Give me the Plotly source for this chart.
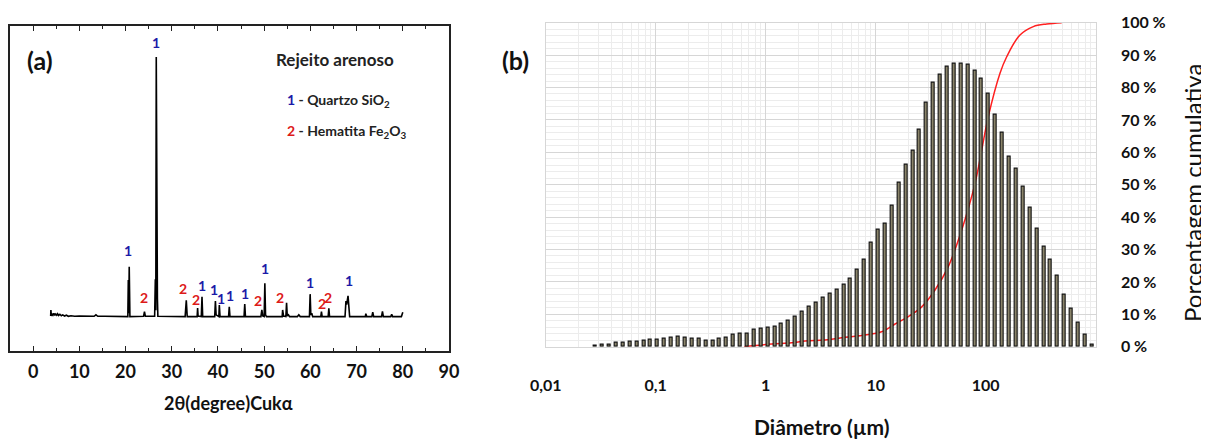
import plotly.graph_objects as go
import numpy as np

# page body has an 8px margin: the figure is placed 8px in from the window corner
OFF = 8
W, H = 1209 - OFF, 440 - OFF
FONT = "Lato"

# ---------------- Panel (a): XRD pattern ----------------
xrd_2theta = [3.8, 3.85, 3.95, 4.1, 4.3, 4.5, 4.7, 4.9, 5.1, 5.3, 5.5, 5.8, 6.1, 6.4, 6.8, 7.2, 7.6,
              8.2, 9.0, 10.0, 11.0, 12.0, 13.2, 13.6, 14.0, 15.5, 17.0, 19.0, 20.5, 20.6, 20.7,
              20.8, 20.95, 23.9, 24.1, 24.3, 26.3, 26.45, 26.55, 26.65, 26.75, 26.9, 27.0,
              32.9, 33.15, 33.35, 35.5, 35.6, 35.7, 36.4, 36.55, 36.7, 39.3, 39.45, 39.6,
              40.2, 40.3, 40.45, 42.3, 42.45, 42.6, 45.65, 45.8, 45.95, 49.3, 49.5, 49.7,
              50.0, 50.15, 50.3, 50.5, 53.9, 54.0, 54.2, 54.7, 54.85, 55.0, 55.25, 55.5,
              57.2, 57.5, 57.8, 59.8, 59.95, 60.1, 60.3, 60.5, 62.25, 62.4, 62.55, 63.85,
              64.0, 64.15, 67.5, 67.7, 67.85, 68.15, 68.35, 68.5, 71.9, 72.0, 72.2, 73.3,
              73.5, 73.7, 75.4, 75.6, 75.8, 77.4, 77.6, 77.8, 79.7, 79.85, 80.0]
xrd_counts = [100, 121, 100, 108, 103, 109, 102, 107, 103, 108, 102, 106, 101, 104, 100, 103, 99,
              101, 99, 100, 99, 100, 99, 104, 99, 99, 98, 98, 98, 225, 110,
              271, 98, 99, 115, 99, 99, 228, 120, 1000, 161, 161, 99,
              98, 155, 98, 98, 128, 100, 98, 167, 98, 98, 152, 104,
              98, 138, 98, 98, 132, 98, 98, 142, 98, 98, 121, 100,
              98, 214, 104, 98, 98, 121, 100, 98, 146, 100, 104, 98,
              98, 104, 98, 98, 176, 104, 110, 98, 98, 115, 98, 98,
              127, 98, 98, 152, 140, 170, 128, 98, 98, 108, 98, 98,
              113, 98, 98, 116, 98, 98, 106, 98, 98, 113, 113]

label_x = [26.6, 20.6, 24.1, 32.5, 36.6, 35.2, 39.1, 40.7, 42.6, 45.95, 48.6, 50.1, 53.5, 59.95, 62.6, 63.85, 68.3]
label_y = [1051, 327, 164, 196, 205, 157, 192, 162, 172, 179, 153, 264, 164, 216, 144, 164, 225]
label_phase = ["1", "1", "2", "2", "1", "2", "1", "1", "1", "1", "2", "1", "2", "1", "2", "2", "1"]

xa_ticks = [0, 10, 20, 30, 40, 50, 60, 70, 80, 90]

# ---------------- Panel (b): particle size distribution ----------------
diam_um = [0.02836, 0.03277, 0.03786, 0.04374, 0.05053, 0.05836, 0.06744, 0.07791, 0.0900, 0.1040,
           0.1201, 0.1388, 0.1603, 0.1852, 0.2139, 0.2472, 0.2856, 0.3299, 0.3812, 0.4404,
           0.5088, 0.5878, 0.6790, 0.7845, 0.9063, 1.047, 1.209, 1.397, 1.614, 1.865,
           2.155, 2.489, 2.876, 3.322, 3.838, 4.434, 5.123, 5.918, 6.838, 7.900,
           9.127, 10.54, 12.18, 14.07, 16.26, 18.78, 21.70, 25.07, 28.96, 33.46,
           38.65, 44.66, 51.59, 59.61, 68.86, 79.56, 91.91, 106.2, 122.7, 141.7,
           163.7, 189.1, 218.5, 252.4, 291.6, 336.9, 389.2, 449.7, 519.4, 600.1,
           693.3, 801.0, 925.3]
freq = [0.4, 0.5, 0.7, 1.1, 1.2, 1.4, 1.6, 2.0, 2.1, 2.3,
        2.6, 2.8, 3.0, 2.8, 2.6, 2.6, 1.7, 1.7, 2.5, 2.9,
        3.8, 4.1, 4.1, 5.1, 5.7, 6.0, 6.3, 7.1, 8.0, 9.4,
        10.7, 12.3, 13.6, 15.1, 16.5, 17.7, 19.0, 21.1, 23.7, 27.0,
        32.2, 36.0, 38.1, 43.5, 50.6, 56.1, 60.5, 66.9, 75.4, 81.4,
        84.0, 86.5, 87.3, 87.3, 86.9, 85.2, 82.6, 78.0, 71.5, 66.0,
        58.6, 54.9, 49.4, 42.9, 36.5, 30.9, 26.8, 21.9, 16.0, 11.7,
        7.5, 3.6, 0.7]

cum_d = [0.639, 1.134, 1.72, 2.28, 3.46, 5.26, 8.0, 11.3, 15.0, 19.8, 26.2, 34.6, 45.7,
         60.5, 80.0, 105.6, 134.9, 155.2, 205, 271, 359, 491]
cum_pct = [0.0, 0.8, 1.2, 1.76, 2.07, 2.9, 3.6, 4.6, 7.0, 9.3, 12.3, 17.5, 24.7,
           36.0, 50.4, 71.0, 84.4, 89.5, 96.2, 98.8, 99.6, 100]

xb_tickvals = [0.01, 0.1, 1, 10, 100]
xb_ticktext = ["0,01", "0,1", "1", "10", "100"]
yb_tickvals = [0, 10, 20, 30, 40, 50, 60, 70, 80, 90, 100]
yb_ticktext = ["0 %", "10 %", "20 %", "30 %", "40 %", "50 %", "60 %", "70 %", "80 %", "90 %", "100 %"]


def px(x):
    return (x - OFF) / W


def py(y):
    return 1 - (y - OFF) / H


def bold(items):
    return ["<b>%s</b>" % t for t in items]


fig = go.Figure()

fig.add_trace(go.Scatter(x=xrd_2theta, y=xrd_counts, mode="lines",
                         line=dict(color="black", width=1.6), xaxis="x", yaxis="y",
                         showlegend=False, hoverinfo="skip"))

fig.add_trace(go.Bar(x=np.log10(diam_um), y=freq, width=0.027, xaxis="x3", yaxis="y2",
                     marker=dict(color="#8a846a", line=dict(color="#111111", width=1.1)),
                     showlegend=False, hoverinfo="skip"))

fig.add_trace(go.Scatter(x=cum_d, y=cum_pct, mode="lines", line=dict(color="#ff2020", width=1.5, shape="spline"),
                         xaxis="x2", yaxis="y2", showlegend=False, hoverinfo="skip"))

annotations = []
for lx, ly, ph in zip(label_x, label_y, label_phase):
    annotations.append(dict(x=lx, y=ly, xref="x", yref="y", text="<b>%s</b>" % ph, showarrow=False,
                            font=dict(family=FONT, size=14, color="#1a1aa8" if ph == "1" else "#dd1a1a"),
                            xanchor="center", yanchor="middle"))

annotations += [
    dict(x=px(40), y=py(60), xref="paper", yref="paper", text="<b>(a)</b>", showarrow=False,
         font=dict(family=FONT, size=25, color="#111"), xanchor="center", yanchor="middle"),
    dict(x=px(515), y=py(60), xref="paper", yref="paper", text="<b>(b)</b>", showarrow=False,
         font=dict(family=FONT, size=25, color="#111"), xanchor="center", yanchor="middle"),
    dict(x=px(335), y=py(59), xref="paper", yref="paper", text="<b>Rejeito arenoso</b>", showarrow=False,
         font=dict(family=FONT, size=17, color="#222"), xanchor="center", yanchor="middle"),
    dict(x=px(285), y=py(100), xref="paper", yref="paper",
         text="<b><span style='color:#1a1aa8'>1</span> - Quartzo SiO<sub>2</sub></b>", showarrow=False,
         font=dict(family=FONT, size=14, color="#222"), xanchor="left", yanchor="middle"),
    dict(x=px(285), y=py(132), xref="paper", yref="paper",
         text="<b><span style='color:#dd1a1a'>2</span> - Hematita Fe<sub>2</sub>O<sub>3</sub></b>", showarrow=False,
         font=dict(family=FONT, size=14, color="#222"), xanchor="left", yanchor="middle"),
    dict(x=px(228), y=py(403), xref="paper", yref="paper", text="<b>2θ(degree)Cukα</b>", showarrow=False,
         font=dict(family=FONT, size=18, color="#111"), xanchor="center", yanchor="middle"),
    dict(x=px(822), y=py(426), xref="paper", yref="paper", text="<b>Diâmetro (µm)</b>", showarrow=False,
         font=dict(family=FONT, size=21, color="#111"), xanchor="center", yanchor="middle"),
    dict(x=px(1193), y=py(193), xref="paper", yref="paper", text="Porcentagem cumulativa", showarrow=False,
         textangle=-90, font=dict(family=FONT, size=24, color="#111"), xanchor="center", yanchor="middle"),
]

fig.update_layout(
    width=W, height=H, margin=dict(l=0, r=0, t=0, b=0, autoexpand=False),
    paper_bgcolor="white", plot_bgcolor="rgba(0,0,0,0)",
    showlegend=False, bargap=0,
    annotations=annotations,
    xaxis=dict(domain=[px(10), px(449)], range=[-5, 90], anchor="y", automargin=False,
               tickvals=xa_ticks, ticktext=bold([str(t) for t in xa_ticks]),
               ticks="inside", ticklen=5, tickwidth=1.2, tickcolor="#222",
               minor=dict(dtick=5, tick0=0, ticks="inside", ticklen=3, tickcolor="#222"),
               showline=True, linecolor="#222", linewidth=1.5, mirror="ticks",
               showgrid=False, zeroline=False, ticklabelstandoff=4,
               tickfont=dict(family=FONT, size=18, color="#111")),
    yaxis=dict(domain=[py(351), py(26)], range=[-21.6, 1108], anchor="x", automargin=False,
               showticklabels=False, ticks="", showgrid=False, zeroline=False,
               showline=True, linecolor="#222", linewidth=1.5, mirror=True),
    xaxis2=dict(domain=[px(545.7), px(1095.7)], type="log", range=[-2, 3], anchor="y2", automargin=False,
                tickvals=xb_tickvals, ticktext=bold(xb_ticktext), ticks="", ticklabelstandoff=24,
                tickfont=dict(family=FONT, size=16, color="#111"),
                showgrid=True, gridcolor="#d6d6d6", gridwidth=1,
                minor=dict(dtick="D1", showgrid=True, gridcolor="#ececec", gridwidth=1),
                showline=True, linecolor="#d6d6d6", linewidth=1, mirror=True, zeroline=False),
    xaxis3=dict(overlaying="x2", range=[-2, 3], anchor="y2", visible=False, showgrid=False, automargin=False),
    yaxis2=dict(domain=[py(346.7), py(22.7)], range=[0, 100], anchor="x2", side="right", automargin=False,
                tickvals=yb_tickvals, ticktext=bold(yb_ticktext),
                ticks="", ticklabelstandoff=21,
                tickfont=dict(family=FONT, size=16, color="#111"),
                showgrid=True, gridcolor="#d6d6d6", gridwidth=1,
                minor=dict(dtick=2, showgrid=True, gridcolor="#ececec", gridwidth=1),
                showline=True, linecolor="#d6d6d6", linewidth=1, mirror=True, zeroline=False),
)

fig.write_html("out.html")
